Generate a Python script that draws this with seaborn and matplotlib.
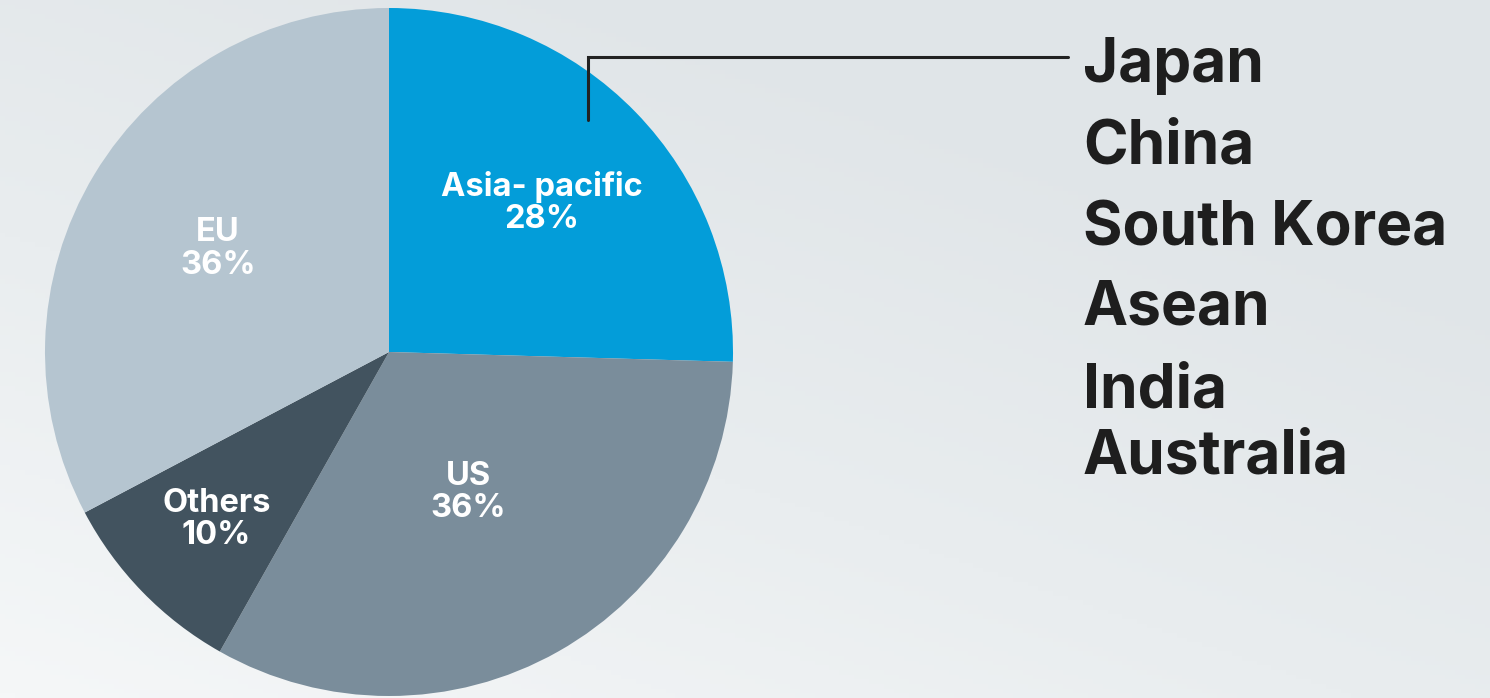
import numpy as np
import matplotlib
matplotlib.use("Agg")
import matplotlib.pyplot as plt
from matplotlib.colors import LinearSegmentedColormap
from matplotlib.lines import Line2D
import seaborn as sns

# Regional share of the market (percent)
regions = ["Asia- pacific", "US", "Others", "EU"]
shares = [28, 36, 10, 36]
asia_pacific_members = ["Japan", "China", "South Korea", "Asean", "India", "Australia"]

sns.set_theme(style="white")
plt.rcParams["font.family"] = ["Inter", "DejaVu Sans"]

palette = sns.color_palette(["#039dd9", "#7a8d9b", "#42535f", "#b5c5d0"])

W, H = 1490, 698
fig = plt.figure(figsize=(W / 100, H / 100), dpi=100)

# soft diagonal background wash
bg = fig.add_axes([0, 0, 1, 1], zorder=0)
gx, gy = np.meshgrid(np.linspace(0, 1, 300), np.linspace(0, 1, 150))
grad = np.clip(0.55 * gx + 0.75 * gy, 0, 1)
cmap = LinearSegmentedColormap.from_list("wash", ["#f5f7f8", "#e9edef", "#e0e5e8"])
bg.imshow(grad, cmap=cmap, origin="lower", aspect="auto", extent=[0, 1, 0, 1])
bg.set_axis_off()

# pie: centre at (389, 352) px from top-left, radius 344 px
cx, cy, r = 389, H - 352, 344
ax = fig.add_axes([(cx - r) / W, (cy - r) / H, 2 * r / W, 2 * r / H], zorder=1)
wedges, _ = ax.pie(shares, colors=palette, startangle=90, counterclock=False,
                   radius=1, wedgeprops=dict(linewidth=0))
ax.set_xlim(-1, 1)
ax.set_ylim(-1, 1)
ax.set_aspect("equal")
ax.set_axis_off()

label_radius = [0.62, 0.47, 0.70, 0.58]
for w, name, val, lr in zip(wedges, regions, shares, label_radius):
    mid = np.deg2rad((w.theta1 + w.theta2) / 2)
    ax.text(lr * np.cos(mid), lr * np.sin(mid), f"{name}\n{val}%",
            ha="center", va="center", color="white", fontsize=23.5,
            fontweight="bold", linespacing=1.05)

# leader line from the Asia-pacific slice to the member list
lx = [588 / W, 588 / W, 1068 / W]
ly = [(H - 120) / H, (H - 57) / H, (H - 57) / H]
fig.add_artist(Line2D(lx, ly, transform=fig.transFigure, color="#222222",
                      linewidth=2.2, solid_joinstyle="miter", zorder=3))

baselines = [82, 163, 245, 325, 407, 473]
for name, yb in zip(asia_pacific_members, baselines):
    fig.text(1083 / W, (H - yb) / H, name, ha="left", va="baseline",
             fontsize=43.5, fontweight="bold", color="#1e1e1e", zorder=3)

fig.savefig("out.png", dpi=100)
